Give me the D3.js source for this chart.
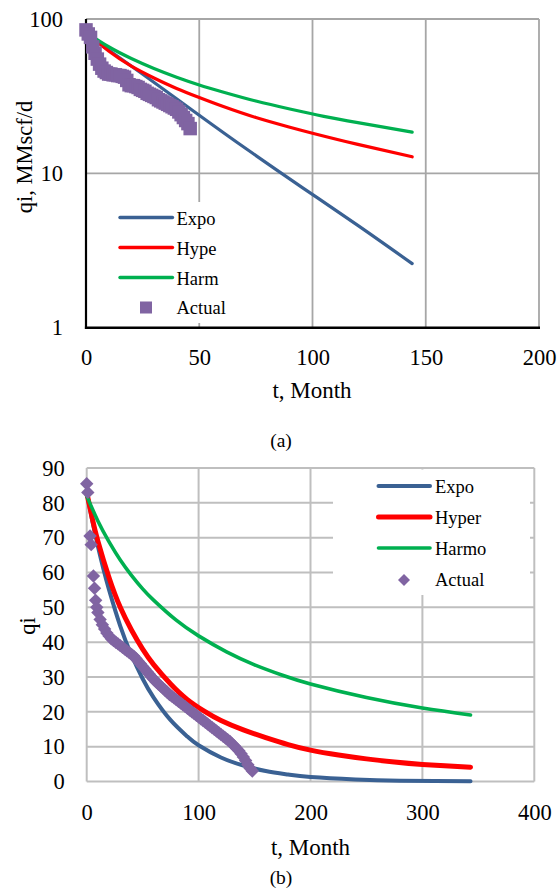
<!DOCTYPE html>
<html>
<head>
<meta charset="utf-8">
<script src="https://cdn.jsdelivr.net/npm/d3@7"></script>
<style>
  body { margin: 0; background: #fff; }
  svg { display: block; }
</style>
</head>
<body>
<svg id="chart" width="560" height="891"></svg>
<script>
// ------ Panel (a) data : semi-log plot, t in months
var tickXA = [0, 50, 100, 150, 200];
var tickYA = [1, 10, 100];

var actualA_t = [0, 1, 2, 3, 4, 5, 6, 7, 8, 9, 10, 11, 12, 13, 14, 15, 16, 17, 18, 19, 20, 21, 22, 23,
                 24, 25, 26, 27, 28, 29, 30, 31, 32, 33, 34, 35, 36, 37, 38, 39, 40, 41, 42, 43, 44, 45, 46];
var actualA_q = [85, 80, 76, 66, 60, 55, 51, 48, 46, 45, 44, 44, 43.5, 43.5, 43, 43, 42.5, 42, 40, 37.5, 37, 37, 36.5, 36,
                 35, 34.5, 34, 33, 32.5, 32, 31.5, 31, 30, 29.5, 29, 28.5, 28, 27.5, 27, 26.5, 26, 25, 24, 23, 22, 21, 19.5];

var expoA_t = [0, 24, 48, 72, 96, 120, 144];
var expoA_q = [80, 45, 25, 14, 8, 4.6, 2.6];
var hypeA_t = [0, 10, 20, 30, 40, 50, 60, 75, 90, 100, 120, 144];
var hypeA_q = [82, 62, 49.5, 41.5, 35.5, 31, 27.3, 23, 19.9, 18.2, 15.4, 12.8];
var harmA_t = [0, 10, 20, 30, 40, 50, 60, 75, 90, 105, 120, 144];
var harmA_q = [82, 66.1, 55.5, 47.8, 42, 37.4, 33.8, 29.4, 26.1, 23.4, 21.3, 18.5];

// ------ Panel (b) data : linear plot
var tickXB = [0, 100, 200, 300, 400];
var tickYB = [0, 10, 20, 30, 40, 50, 60, 70, 80, 90];

var actualB_t = [0, 1, 3, 4, 6, 7, 8, 9,
                 10, 12, 14, 16, 18, 20, 22, 24, 26, 28, 30, 32, 34, 36, 38, 40, 42, 44, 46, 48,
                 50, 52, 54, 56, 58, 60, 62, 64, 66, 68, 70, 72, 74, 76, 78, 80, 82, 84, 86, 88,
                 90, 92, 94, 96, 98, 100, 102, 104, 106, 108, 110, 112, 114, 116, 118, 120, 122, 124, 126, 128,
                 130, 132, 134, 136, 138, 140, 142, 144, 146, 148];
var actualB_q = [85.5, 83, 70.5, 68, 59, 55.5, 52, 50,
                 48.5, 46.5, 45, 43.8, 42.6, 41.8, 41, 40.5, 40, 39.5, 39, 38.5, 38, 37.5, 37, 36.5, 36, 35.3, 34.5, 33.8,
                 33, 32.3, 31.5, 30.8, 30, 29.3, 28.6, 28, 27.4, 26.8, 26.2, 25.6, 25, 24.5, 24, 23.5, 23, 22.5, 22, 21.5,
                 21, 20.5, 20, 19.5, 19, 18.5, 18, 17.5, 17, 16.5, 16, 15.5, 15, 14.5, 14, 13.5, 13, 12.5, 12, 11.5,
                 10.8, 10.2, 9.5, 8.8, 8, 7, 6, 4.8, 3.8, 3];

var expoB_t = [0, 5, 10, 15, 20, 30, 40, 50, 60, 75, 90, 100, 120, 140, 160, 180, 200, 240, 280, 343];
var expoB_q = [83, 74.8, 67.5, 60.9, 55, 44.6, 36.3, 29.5, 24, 17.6, 12.9, 10.4, 6.9, 4.6, 3, 2, 1.3, 0.6, 0.25, 0.1];
var hyperB_t = [0, 5, 10, 20, 30, 40, 50, 60, 75, 90, 105, 120, 140, 160, 180, 200, 225, 250, 275, 300, 343];
var hyperB_q = [83, 75.5, 69, 58.5, 50, 43.5, 38, 33.5, 28, 23.5, 20.2, 17.5, 14.8, 12.6, 10.6, 9, 7.6, 6.5, 5.6, 4.9, 4.1];
var harmoB_t = [0, 10, 20, 30, 40, 50, 60, 80, 100, 125, 150, 175, 200, 250, 300, 343];
var harmoB_q = [82, 74.8, 68.8, 63.6, 59.2, 55.3, 52, 46.3, 41.8, 37.2, 33.5, 30.5, 28, 24.1, 21.1, 19.1];

// ------ Styles
var font = "'Liberation Serif', 'Times New Roman', serif";
var cBlue = "#3a6193", cRed = "#ff0000", cGreen = "#00b050", cPurple = "#8064a2";

var svg = d3.select("#chart");

// ----------------------------------------------------------  Panel (a)  ----------------------------------------------------------
var xA = d3.scaleLinear().domain([0, 200]).range([86, 539]);
var yA = d3.scaleLog().domain([1, 100]).range([327.7, 19]);
var gA = svg.append("g");

// grid
gA.append("g").selectAll("line").data(tickXA.slice(1)).enter().append("line")
  .attr("x1", d => xA(d)).attr("x2", d => xA(d))
  .attr("y1", yA(100)).attr("y2", yA(1))
  .style("stroke", "#a6a6a6").style("stroke-width", 1.8);
gA.append("g").selectAll("line").data(tickYA.slice(1)).enter().append("line")
  .attr("x1", xA(0)).attr("x2", xA(200))
  .attr("y1", d => yA(d)).attr("y2", d => yA(d))
  .style("stroke", "#a6a6a6").style("stroke-width", 1.8);

// legend background hides the grid behind it
gA.append("rect").attr("x", 108).attr("y", 202).attr("width", 127).attr("height", 121).style("fill", "#fff");

// black axes (left and bottom)
gA.append("line").attr("x1", xA(0)).attr("x2", xA(0)).attr("y1", yA(100)).attr("y2", yA(1) + 1.2)
  .style("stroke", "#000").style("stroke-width", 2.2);
gA.append("line").attr("x1", xA(0) - 1.1).attr("x2", xA(200) + 1).attr("y1", yA(1)).attr("y2", yA(1))
  .style("stroke", "#000").style("stroke-width", 2.6);

// tick labels
var axXA = gA.append("g").attr("transform", "translate(0," + yA(1) + ")")
  .call(d3.axisBottom(xA).tickValues(tickXA).tickSize(0).tickPadding(21).tickFormat(d3.format("d")));
var axYA = gA.append("g").attr("transform", "translate(" + xA(0) + ",0)")
  .call(d3.axisLeft(yA).tickValues(tickYA).tickSize(0).tickPadding(23).tickFormat(d3.format("d")));
[axXA, axYA].forEach(function(a) {
  a.select(".domain").remove();
  a.attr("font-family", font).attr("font-size", 22.5);
  a.selectAll("text").style("fill", "#000");
});

// titles
gA.append("text").attr("x", 312).attr("y", 398).attr("text-anchor", "middle")
  .style("font-family", font).style("font-size", "23px").text("t, Month");
gA.append("text").attr("transform", "translate(31.5,157) rotate(-90)").attr("text-anchor", "middle")
  .style("font-family", font).style("font-size", "22.5px").text("qi, MMscf/d");
gA.append("text").attr("x", 281).attr("y", 447).attr("text-anchor", "middle")
  .style("font-family", font).style("font-size", "19.5px").text("(a)");

// curves
var lineA = d3.line().x(d => xA(d[0])).y(d => yA(d[1])).curve(d3.curveNatural);
var seriesA = [
  {name: "Expo", color: cBlue, pts: d3.zip(expoA_t, expoA_q)},
  {name: "Hype", color: cRed, pts: d3.zip(hypeA_t, hypeA_q)},
  {name: "Harm", color: cGreen, pts: d3.zip(harmA_t, harmA_q)}
];
gA.selectAll(".curveA").data(seriesA).enter().append("path")
  .attr("class", "curveA")
  .attr("d", d => lineA(d.pts))
  .style("fill", "none").style("stroke", d => d.color)
  .style("stroke-width", 3.2).style("stroke-linecap", "round");

// actual data markers
gA.selectAll(".sq").data(d3.zip(actualA_t, actualA_q)).enter().append("path")
  .attr("class", "sq")
  .attr("d", d3.symbol(d3.symbolSquare, 182))
  .attr("transform", d => "translate(" + xA(d[0]) + "," + yA(d[1]) + ")")
  .style("fill", cPurple);

// legend
var legA = gA.append("g");
seriesA.forEach(function(s, i) {
  var y = 217.5 + i * 30;
  legA.append("line").attr("x1", 120).attr("x2", 172.5).attr("y1", y).attr("y2", y)
    .style("stroke", s.color).style("stroke-width", 3.4).style("stroke-linecap", "round");
  legA.append("text").attr("x", 176.5).attr("y", y + 7).style("font-family", font).style("font-size", "18.5px").text(s.name);
});
legA.append("rect").attr("x", 140).attr("y", 301.5).attr("width", 12).attr("height", 12).style("fill", cPurple);
legA.append("text").attr("x", 176.5).attr("y", 314).style("font-family", font).style("font-size", "18.5px").text("Actual");

// ----------------------------------------------------------  Panel (b)  ----------------------------------------------------------
var xB = d3.scaleLinear().domain([0, 400]).range([86.7, 534.3]);
var yB = d3.scaleLinear().domain([0, 90]).range([781.5, 468]);
var gB = svg.append("g");

// grid + border (all grey)
gB.append("g").selectAll("line").data(tickXB).enter().append("line")
  .attr("x1", d => xB(d)).attr("x2", d => xB(d))
  .attr("y1", yB(90)).attr("y2", yB(0))
  .style("stroke", "#bfbfbf").style("stroke-width", 2);
gB.append("g").selectAll("line").data(tickYB).enter().append("line")
  .attr("x1", xB(0)).attr("x2", xB(400))
  .attr("y1", d => yB(d)).attr("y2", d => yB(d))
  .style("stroke", "#bfbfbf").style("stroke-width", 2);

gB.append("rect").attr("x", 333).attr("y", 469.5).attr("width", 197).attr("height", 125.5).style("fill", "#fff");

var axXB = gB.append("g").attr("transform", "translate(0," + yB(0) + ")")
  .call(d3.axisBottom(xB).tickValues(tickXB).tickSize(0).tickPadding(23));
var axYB = gB.append("g").attr("transform", "translate(" + xB(0) + ",0)")
  .call(d3.axisLeft(yB).tickValues(tickYB).tickSize(0).tickPadding(22));
[axXB, axYB].forEach(function(a) {
  a.select(".domain").remove();
  a.attr("font-family", font).attr("font-size", 22.5);
  a.selectAll("text").style("fill", "#000");
});

gB.append("text").attr("x", 310.5).attr("y", 855).attr("text-anchor", "middle")
  .style("font-family", font).style("font-size", "23px").text("t, Month");
gB.append("text").attr("transform", "translate(35,626) rotate(-90)").attr("text-anchor", "middle")
  .style("font-family", font).style("font-size", "22.5px").text("qi");
gB.append("text").attr("x", 281).attr("y", 884).attr("text-anchor", "middle")
  .style("font-family", font).style("font-size", "19.5px").text("(b)");

var lineB = d3.line().x(d => xB(d[0])).y(d => yB(d[1])).curve(d3.curveNatural);
var seriesB = [
  {name: "Expo", color: cBlue, w: 4, pts: d3.zip(expoB_t, expoB_q)},
  {name: "Hyper", color: cRed, w: 5, pts: d3.zip(hyperB_t, hyperB_q)},
  {name: "Harmo", color: cGreen, w: 3.6, pts: d3.zip(harmoB_t, harmoB_q)}
];
gB.selectAll(".curveB").data(seriesB).enter().append("path")
  .attr("class", "curveB")
  .attr("d", d => lineB(d.pts))
  .style("fill", "none").style("stroke", d => d.color)
  .style("stroke-width", d => d.w).style("stroke-linecap", "round");

gB.selectAll(".dm").data(d3.zip(actualB_t, actualB_q)).enter().append("path")
  .attr("class", "dm")
  .attr("d", d3.symbol(d3.symbolSquare, 90))
  .attr("transform", d => "translate(" + xB(d[0]) + "," + yB(d[1]) + ") rotate(45)")
  .style("fill", cPurple);

var legB = gB.append("g");
seriesB.forEach(function(s, i) {
  var y = 486 + i * 31;
  legB.append("line").attr("x1", 378.5).attr("x2", 430).attr("y1", y).attr("y2", y)
    .style("stroke", s.color).style("stroke-width", s.w).style("stroke-linecap", "round");
  legB.append("text").attr("x", 435).attr("y", y + 7).style("font-family", font).style("font-size", "18.5px").text(s.name);
});
legB.append("path").attr("d", d3.symbol(d3.symbolSquare, 72))
  .attr("transform", "translate(404,580) rotate(45)").style("fill", cPurple);
legB.append("text").attr("x", 435).attr("y", 586).style("font-family", font).style("font-size", "18.5px").text("Actual");
</script>
</body>
</html>
